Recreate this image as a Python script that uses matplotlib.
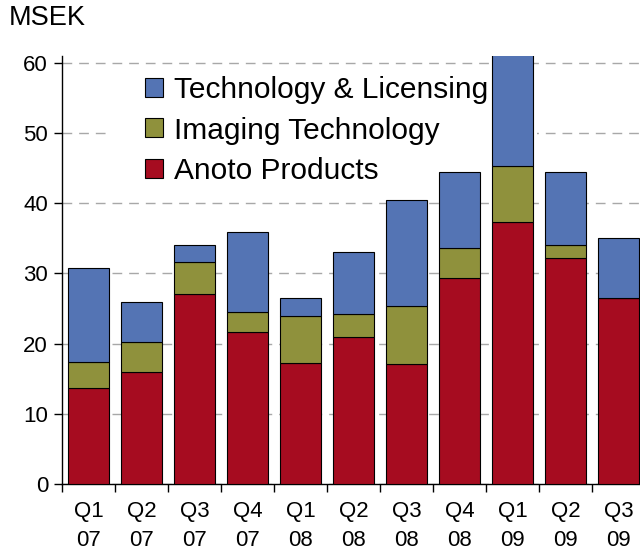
import matplotlib
matplotlib.use("Agg")
import matplotlib.pyplot as plt
from matplotlib.patches import Rectangle
import numpy as np

plt.rcParams['font.family'] = ['Liberation Sans', 'DejaVu Sans']

quarters = ["Q1", "Q2", "Q3", "Q4", "Q1", "Q2", "Q3", "Q4", "Q1", "Q2", "Q3"]
years = ["07", "07", "07", "07", "08", "08", "08", "08", "09", "09", "09"]

# MSEK per quarter
anoto_products = [13.7, 15.9, 27.1, 21.65, 17.3, 21.0, 17.1, 29.35, 37.3, 32.15, 26.45]
imaging_tech = [3.7, 4.3, 4.5, 2.85, 6.6, 3.2, 8.2, 4.25, 7.95, 1.95, 0.0]
tech_licensing = [13.4, 5.7, 2.5, 11.35, 2.55, 8.8, 15.15, 10.8, 16.75, 10.3, 8.55]

c_blue = "#5474B4"
c_olive = "#8F913C"
c_red = "#A60C20"

fig = plt.figure(figsize=(6.4, 5.54), dpi=100)
ax = fig.add_axes([62/640, 70/554, 583/640, 428.3/554])

x = np.arange(len(quarters))
a = np.array(anoto_products)
im = np.array(imaging_tech)
t = np.array(tech_licensing)

w = 0.77
ax.bar(x, a, w, color=c_red, edgecolor="black", linewidth=0.8, zorder=3, label="Anoto Products")
ax.bar(x, im, w, bottom=a, color=c_olive, edgecolor="black", linewidth=0.8, zorder=3, label="Imaging Technology")
ax.bar(x, t, w, bottom=a + im, color=c_blue, edgecolor="black", linewidth=0.8, zorder=3, label="Technology & Licensing")

ax.set_xlim(-0.5, len(quarters) - 0.5)
ax.set_ylim(0, 61)
ax.set_yticks(range(0, 61, 10))
ax.yaxis.grid(True, color="#A8A8A8", linestyle=(0, (7, 5)), linewidth=1.0, zorder=0)
ax.set_axisbelow(True)

# white patch behind legend that hides the 50 grid line
ax.add_patch(Rectangle((0.41, 42), 8.05, 16, facecolor="white", edgecolor="none", zorder=1))

ax.set_xticks(np.arange(-0.5, len(quarters), 1.0))
ax.set_xticklabels([])
ax.set_xticks(x, minor=True)
ax.set_xticklabels([q + "\n" + y for q, y in zip(quarters, years)], minor=True, fontsize=16, linespacing=1.55)
ax.tick_params(axis="x", which="major", length=6, width=1, direction="out")
ax.tick_params(axis="x", which="minor", length=0, pad=12)
ax.tick_params(axis="y", length=6, width=1, labelsize=16, pad=4)

for s in ["top", "right"]:
    ax.spines[s].set_visible(False)
ax.spines["left"].set_linewidth(1)
ax.spines["bottom"].set_linewidth(1)

h, l = ax.get_legend_handles_labels()
leg = ax.legend(h[::-1], l[::-1], loc="upper left", bbox_to_anchor=(0.142, 0.952),
                frameon=False, fontsize=21.5, borderpad=0, borderaxespad=0,
                handlelength=0.6, handleheight=0.6, handletextpad=0.37, labelspacing=0.41)
leg.set_zorder(5)

fig.text(9/640, 1 - 18/554, "MSEK", fontsize=19.5, va="center", ha="left")

fig.savefig("out.png", dpi=100)
